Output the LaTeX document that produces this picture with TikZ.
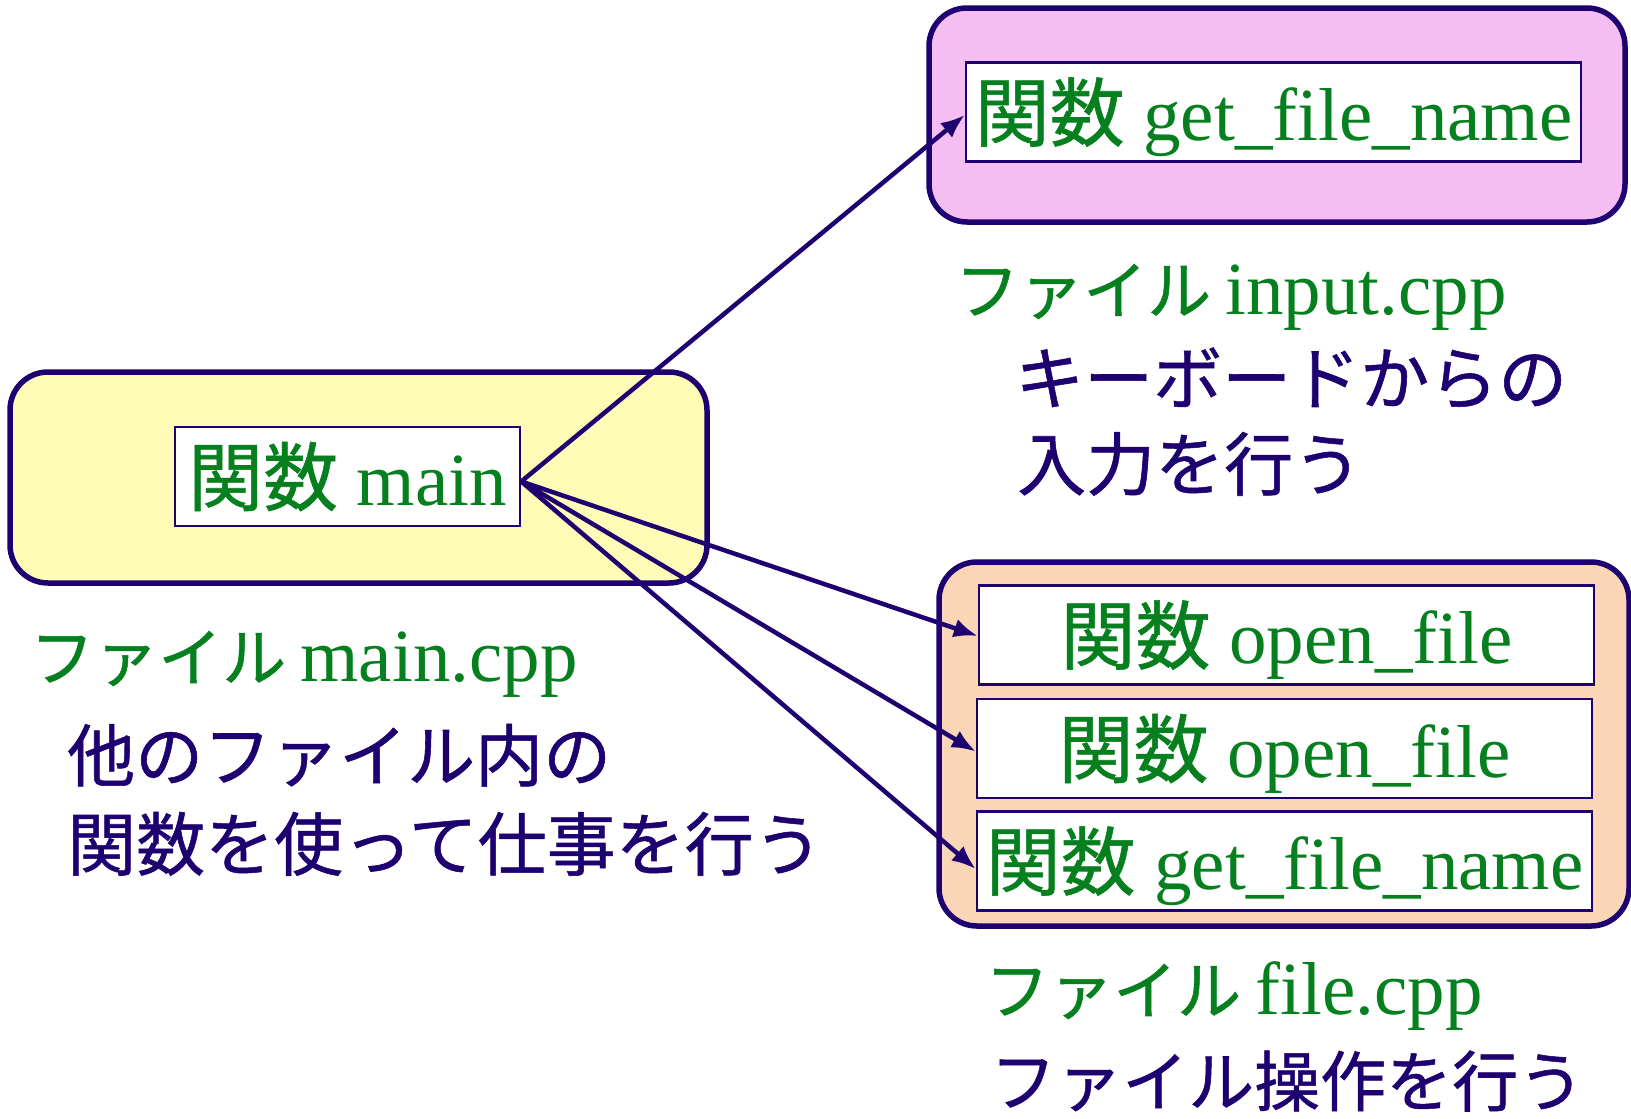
\documentclass[tikz,border=0pt]{standalone}
\usepackage{fontspec}
\setmainfont{Liberation Serif}
\newfontfamily\jpf[FakeBold=0.8]{Noto Sans CJK JP}
\usetikzlibrary{arrows.meta,calc}
\definecolor{fgreen}{RGB}{6,128,30}
\definecolor{navy}{RGB}{30,0,112}
\definecolor{pinkfill}{RGB}{244,190,242}
\definecolor{yellowfill}{RGB}{255,252,184}
\definecolor{orangefill}{RGB}{250,214,182}
\newcommand\JGreen{\jpf\fontsize{64}{70}\selectfont}
\newcommand\LGreen{\rmfamily\fontsize{75}{80}\selectfont}
\newcommand\NavySize[1]{\fontsize{#1}{#1}\selectfont}
\begin{document}
\begin{tikzpicture}[x=1pt,y=-1pt,
  outerbox/.style={draw=navy, line width=5.5pt, rounded corners=38pt, inner sep=0pt},
  funcbox/.style={draw=navy, line width=2.5pt, fill=white, inner sep=0pt,
    minimum width=615pt, minimum height=99pt, text height=62pt, text depth=5pt,
    font=\fontsize{75}{80}\selectfont, text=fgreen},
  greenlbl/.style={anchor=base west, inner sep=0pt, text=fgreen},
  navylbl/.style={anchor=base west, inner sep=0pt, text=navy, font=\jpf},
  conn/.style={draw=navy, line width=4.5pt, -{Latex[length=24pt,width=19pt]}}
]
\useasboundingbox (0,0) rectangle (1631,1119);

% outer file boxes
\node[outerbox, fill=pinkfill, minimum width=696pt, minimum height=214pt] (inputbox) at (1277,115) {};
\node[outerbox, fill=yellowfill, minimum width=697pt, minimum height=211pt] (mainbox) at (358.5,477.5) {};
\node[outerbox, fill=orangefill, minimum width=690pt, minimum height=364pt] (filebox) at (1284,744) {};

% function boxes
\node[funcbox] (fgetin) at (1273.5,112) {{\jpf 関数} get\_file\_name};
\node[funcbox, minimum width=345pt] (fmain) at (347.5,476.5) {{\jpf 関数} main};
\node[funcbox] (fopen1) at (1286.5,635) {{\jpf 関数} open\_file};
\node[funcbox] (fopen2) at (1284.5,748.5) {{\jpf 関数} open\_file};
\node[funcbox] (fget2) at (1284.5,861) {{\jpf 関数} get\_file\_name};

% connectors
\coordinate (src) at ($(fmain.east)+(0,5)$);
\draw[conn] (src) -- ($(fgetin.west)+(0,3)$);
\draw[conn] (src) -- ($(fopen1.west)+(0,1)$);
\draw[conn] (src) -- ($(fopen2.west)+(0,3)$);
\draw[conn] (src) -- ($(fget2.west)+(0,8)$);

% labels
\node[greenlbl] (linput) at (955,314) {\JGreen ファイル \LGreen input.cpp};
\node[navylbl] (dinput1) at (1015,404) {\NavySize{69}キーボードからの};
\node[navylbl] (dinput2) at (1017,490) {\NavySize{69}入力を行う};

\node[greenlbl] (lmain) at (30,681) {\JGreen ファイル \LGreen main.cpp};
\node[navylbl] (dmain1) at (67,781) {\NavySize{68}他のファイル内の};
\node[navylbl] (dmain2) at (67,870) {\NavySize{69}関数を使って仕事を行う};

\node[greenlbl] (lfile) at (985,1014) {\JGreen ファイル \LGreen file.cpp};
\node[navylbl] (dfile1) at (990,1106) {\NavySize{66}ファイル操作を行う};
\end{tikzpicture}
\end{document}
